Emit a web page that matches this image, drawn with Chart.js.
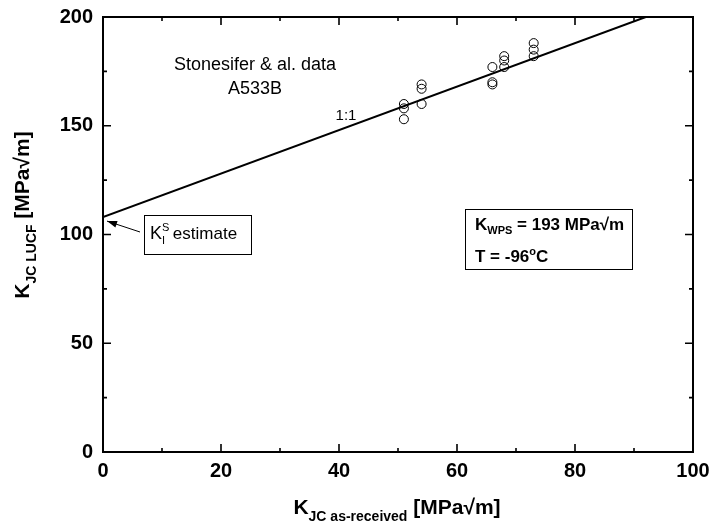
<!DOCTYPE html>
<html>
<head>
<meta charset="utf-8">
<script src="https://cdn.jsdelivr.net/npm/chart.js@4.4.1/dist/chart.umd.min.js"></script>
<style>
  html, body { margin: 0; padding: 0; background: #fff; }
  #wrap { width: 712px; height: 529px; position: relative; }
</style>
</head>
<body>
<div id="wrap"><canvas id="chart"></canvas></div>
<script>
// K_JC as-received vs K_JC after LUCF (A533B, Stonesifer et al.)
const asReceived = [51, 51, 51, 54, 54, 54, 66, 66, 66, 68, 68, 68, 73, 73, 73];
const lucf       = [160, 158, 153, 169, 167, 160, 177, 170, 169, 182, 180, 177, 188, 185, 182];

// 1:1 line through the K_I^S estimate
const fitX = [0, 92];
const fitY = [108, 200];

const xTicks = [0, 20, 40, 60, 80, 100];
const yTicks = [0, 50, 100, 150, 200];

const FONT = '"Liberation Sans", Arial, Helvetica, sans-serif';

// width of a run of text pieces
function runsWidth(ctx, runs) {
  let total = 0;
  runs.forEach(r => {
    ctx.font = r.font;
    r.w = ctx.measureText(r.t).width;
    if (!r.stack) total += r.w;
  });
  return total;
}

// draws a run of text pieces (normal / sub / sup) one after another
function drawRuns(ctx, runs, x, y, align) {
  const total = runsWidth(ctx, runs);
  let cx = align === 'center' ? x - total / 2 : x;
  ctx.textAlign = 'left';
  ctx.textBaseline = 'alphabetic';
  runs.forEach(r => {
    ctx.font = r.font;
    ctx.fillText(r.t, cx, y + (r.dy || 0));
    // a piece flagged "stack" shares its slot with the next one
    if (!r.stack) cx += r.w;
  });
  return total;
}

const framePlugin = {
  id: 'frame',
  afterDraw(chart) {
    const { ctx, chartArea: a, scales: { x, y } } = chart;
    ctx.save();
    ctx.strokeStyle = '#000';
    ctx.fillStyle = '#000';

    // frame
    ctx.lineWidth = 2;
    ctx.strokeRect(a.left, a.top, a.right - a.left, a.bottom - a.top);

    // inward ticks on all four sides
    ctx.lineWidth = 1.6;
    ctx.beginPath();
    for (let i = 0; i < xTicks.length; i++) {
      const px = x.getPixelForValue(xTicks[i]);
      ctx.moveTo(px, a.bottom); ctx.lineTo(px, a.bottom - 8);
      ctx.moveTo(px, a.top); ctx.lineTo(px, a.top + 8);
      if (i < xTicks.length - 1) {
        const mx = x.getPixelForValue((xTicks[i] + xTicks[i + 1]) / 2);
        ctx.moveTo(mx, a.bottom); ctx.lineTo(mx, a.bottom - 4);
        ctx.moveTo(mx, a.top); ctx.lineTo(mx, a.top + 4);
      }
    }
    for (let i = 0; i < yTicks.length; i++) {
      const py = y.getPixelForValue(yTicks[i]);
      ctx.moveTo(a.left, py); ctx.lineTo(a.left + 8, py);
      ctx.moveTo(a.right, py); ctx.lineTo(a.right - 8, py);
      if (i < yTicks.length - 1) {
        const my = y.getPixelForValue((yTicks[i] + yTicks[i + 1]) / 2);
        ctx.moveTo(a.left, my); ctx.lineTo(a.left + 4, my);
        ctx.moveTo(a.right, my); ctx.lineTo(a.right - 4, my);
      }
    }
    ctx.stroke();

    // axis titles
    const big = 'bold 21px ' + FONT;
    const small = 'bold 14px ' + FONT;
    drawRuns(ctx, [
      { t: 'K', font: big },
      { t: 'JC as-received', font: small, dy: 7 },
      { t: ' [MPa\u221Am]', font: big }
    ], 397, 514, 'center');

    ctx.save();
    ctx.translate(29, 215);
    ctx.rotate(-Math.PI / 2);
    drawRuns(ctx, [
      { t: 'K', font: big },
      { t: 'JC LUCF', font: small, dy: 7 },
      { t: ' [MPa\u221Am]', font: big }
    ], 0, 0, 'center');
    ctx.restore();

    // data source note
    ctx.font = '18px ' + FONT;
    ctx.textAlign = 'center';
    ctx.textBaseline = 'alphabetic';
    ctx.fillText('Stonesifer & al. data', 255, 70);
    ctx.fillText('A533B', 255, 94);

    ctx.font = '15px ' + FONT;
    ctx.fillText('1:1', 346, 120);

    // K_I^S estimate box and arrow
    ctx.lineWidth = 1;
    ctx.strokeRect(144.5, 215.5, 107, 39);
    drawRuns(ctx, [
      { t: 'K', font: '18px ' + FONT },
      { t: 'S', font: '11px ' + FONT, dy: -8, stack: true },
      { t: 'I ', font: '11px ' + FONT, dy: 5 },
      { t: ' estimate', font: '17px ' + FONT }
    ], 150, 239, 'left');

    const tipX = x.getPixelForValue(fitX[0]) + 4;
    const tipY = y.getPixelForValue(fitY[0]) + 4;
    const tailX = 140, tailY = 232;
    const ang = Math.atan2(tipY - tailY, tipX - tailX);
    ctx.beginPath();
    ctx.moveTo(tailX, tailY);
    ctx.lineTo(tipX, tipY);
    ctx.stroke();
    ctx.beginPath();
    ctx.moveTo(tipX, tipY);
    ctx.lineTo(tipX - 10 * Math.cos(ang) + 3.5 * Math.sin(ang), tipY - 10 * Math.sin(ang) - 3.5 * Math.cos(ang));
    ctx.lineTo(tipX - 10 * Math.cos(ang) - 3.5 * Math.sin(ang), tipY - 10 * Math.sin(ang) + 3.5 * Math.cos(ang));
    ctx.closePath();
    ctx.fill();

    // K_WPS / temperature box, sized to its first line
    const wpsLine = [
      { t: 'K', font: 'bold 17px ' + FONT },
      { t: 'WPS', font: 'bold 11px ' + FONT, dy: 4 },
      { t: ' = 193 MPa\u221Am', font: 'bold 17px ' + FONT }
    ];
    const boxW = runsWidth(ctx, wpsLine) + 18;
    ctx.strokeRect(465.5, 209.5, Math.round(boxW), 60);
    drawRuns(ctx, wpsLine, 475, 230, 'left');
    drawRuns(ctx, [
      { t: 'T = -96', font: 'bold 17px ' + FONT },
      { t: 'o', font: 'bold 11px ' + FONT, dy: -7 },
      { t: 'C', font: 'bold 17px ' + FONT }
    ], 475, 262, 'left');

    ctx.restore();
  }
};

const ctx = document.getElementById('chart').getContext('2d');
new Chart(ctx, {
  type: 'scatter',
  data: {
    datasets: [
      {
        label: '1:1',
        data: fitX.map((v, i) => ({ x: v, y: fitY[i] })),
        showLine: true,
        borderColor: '#000',
        borderWidth: 2,
        pointRadius: 0,
        fill: false
      },
      {
        label: 'Stonesifer & al. data',
        data: asReceived.map((v, i) => ({ x: v, y: lucf[i] })),
        pointStyle: 'circle',
        pointRadius: 4.5,
        borderColor: '#000',
        borderWidth: 1,
        backgroundColor: 'rgba(255,255,255,0)'
      }
    ]
  },
  options: {
    responsive: true,
    maintainAspectRatio: false,
    animation: false,
    layout: { padding: { left: 0, right: 19, top: 17, bottom: 0 } },
    plugins: { legend: { display: false }, tooltip: { enabled: false } },
    scales: {
      x: {
        type: 'linear',
        min: 0, max: 100,
        grid: { display: false, drawTicks: false },
        border: { display: false },
        ticks: {
          stepSize: 20,
          padding: 7,
          maxRotation: 0,
          color: '#000',
          font: { family: FONT, size: 20, weight: 'bold' }
        },
        afterFit(scale) {
          scale.height = 77;
          scale.paddingLeft = 0;
          scale.paddingRight = 0;
        }
      },
      y: {
        type: 'linear',
        min: 0, max: 200,
        grid: { display: false, drawTicks: false },
        border: { display: false },
        ticks: {
          stepSize: 50,
          padding: 10,
          color: '#000',
          font: { family: FONT, size: 20, weight: 'bold' }
        },
        afterFit(scale) {
          scale.width = 103;
          scale.paddingTop = 0;
          scale.paddingBottom = 0;
        }
      }
    }
  },
  plugins: [framePlugin]
});
</script>
</body>
</html>
